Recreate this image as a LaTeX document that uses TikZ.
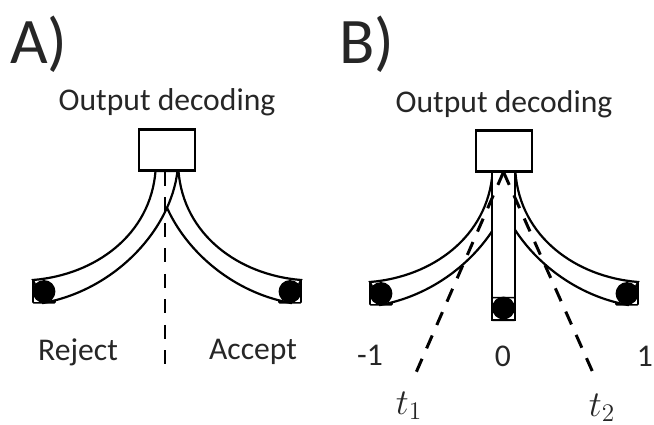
\documentclass[tikz,border=0pt]{standalone}
\usepackage{fontspec}
\setmainfont{Carlito}
\usetikzlibrary{calc}
\usetikzlibrary{positioning}
\tikzset{
    decoder box/.style={
        draw,
        fill=white,
        line width=1.5pt,
        minimum width=32pt,
        minimum height=23.5pt,
        inner sep=0,
    },
    arm/.style={
        draw,
        fill=white,
        line width=1.25pt,
    },
    stop box/.style={
        draw,
        line width=0.9pt,
        minimum width=12.5pt,
        minimum height=13pt,
        inner sep=0,
        rounded corners=0.5pt,
    },
    ball/.style={
        fill,
        circle,
        minimum size=13pt,
        inner sep=0,
    },
    threshold/.style={
        line width=1.7pt,
        dash pattern=on 8pt off 6.5pt,
    },
    panel label/.style={
        text=black!85,
        font=\fontsize{37}{37}\selectfont,
    },
    small label/.style={
        text=black!85,
        font=\fontsize{18}{18}\selectfont,
    },
    time label/.style={
        text=black!85,
        font=\fontsize{21}{21}\selectfont,
    },
}

\begin{document}
\begin{tikzpicture}[x=0.02cm,y=-0.02cm]
    \useasboundingbox (0,0) rectangle (654,425);

    % #1 prefix, #2 mirror factor, one curved arm leaving the box
    \newcommand\curvedarm[2]{
        \coordinate (#1out) at ($(167,171)+#2*(-11.5,0)$);
        \coordinate (#1in) at ($(167,171)+#2*(10.5,0)$);
        \coordinate (#1outend) at ($(167,280)+#2*(-134,0)$);
        \coordinate (#1inend) at ($(167,303)+#2*(-124,0)$);
        \node[stop box] (#1stop) at ($(167,291.5)+#2*(-123,0)$) {};
        \path[arm] (#1out) .. controls ($(#1out)+(#2*-5,64)$) and ($(#1outend)+(#2*62,-5)$) .. (#1outend)
            -- (#1inend) .. controls ($(#1inend)+(#2*72,-13)$) and ($(#1in)+(#2*-7,59)$) .. (#1in) -- cycle;
        \node[ball] (#1ball) at ($(167,291.5)+#2*(-123,0)$) {};
    }

    % panel A
    \curvedarm{ar}{-1}
    \curvedarm{al}{1}
    \node[decoder box] (abox) at (167,150) {};
    \coordinate (aend) at (165,366);
    \draw[threshold] (abox.south -| aend) -- (aend);
    \node[panel label] (atitle) at (39,44) {A)};
    \node[small label] (aoutput) at (167,102) {Output decoding};
    \node[small label] (areject) at (78,352) {Reject};
    \node[small label] (aaccept) at (253,352) {Accept};

    % panel B
    \begin{scope}[shift={(337,2)}]
        \curvedarm{br}{-1}
        \curvedarm{bl}{1}
        \path[arm] (155,170) rectangle (178,318);
        \node[stop box, minimum width=13pt] (bmid) at (166.5,307) {};
        \node[ball] (bball) at (166.5,306) {};
        \node[decoder box] (bbox) at (167,149) {};
    \end{scope}
    \coordinate (tone) at (415,375);
    \coordinate (ttwo) at (594,375);
    \draw[threshold] (503.5,172) -- (tone);
    \draw[threshold] (503.5,172) -- (ttwo);
    \node[panel label] (btitle) at (367,44) {B)};
    \node[small label] (boutput) at (504,104) {Output decoding};
    \node[small label] (bminus) at (370,355) {-1};
    \node[small label] (bzero) at (503,356) {0};
    \node[small label] (bone) at (645,356) {1};
    \node[time label] (tonelabel) at (409,406) {$t_1$};
    \node[time label] (ttwolabel) at (602,408) {$t_2$};

\end{tikzpicture}
\end{document}
